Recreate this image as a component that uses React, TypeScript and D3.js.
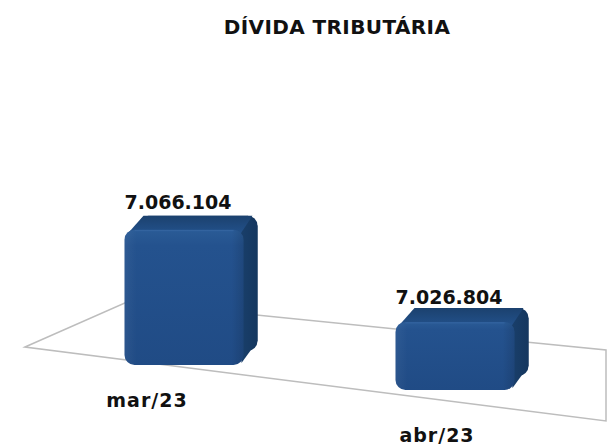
import React from "react";
import * as d3 from "d3";

const title = "DÍVIDA TRIBUTÁRIA";
const categories = ["mar/23", "abr/23"];
const values = [7066104, 7026804];
const valueLabels = ["7.066.104", "7.026.804"];

const W = 608;
const H = 448;
const FONT = "'DejaVu Sans', 'Liberation Sans', sans-serif";

// perspective layout helpers
const barX = d3.scalePoint<string>().domain(categories).range([184, 455]);
const baseY = d3.scaleLinear().domain([184, 455]).range([365, 390]);
const hScale = d3.scaleLinear().domain([6987000, 7070000]).range([0, 142]);
const labelX = d3.scalePoint<string>().domain(categories).range([147, 437]);
const labelY = d3.scaleLinear().domain([147, 437]).range([407, 442]);

const BAR_W = 119;
const DX = 14;
const DY = -14;
const RX = 10;

const floorPts: [number, number][] = [
  [25, 347],
  [127, 302],
  [606, 350],
  [606, 421],
];

export default function App() {
  const floorPath = d3.line()(floorPts) + "Z";
  return (
    <svg
      width={W}
      height={H}
      style={{ position: "absolute", left: 0, top: 0, background: "#fff" }}
    >
      <defs>
        <linearGradient id="front" x1="0" y1="0" x2="0" y2="1">
          <stop offset="0" stopColor="#2a5b96" />
          <stop offset="0.12" stopColor="#24528e" />
          <stop offset="1" stopColor="#204b85" />
        </linearGradient>
        <linearGradient id="frontH" x1="0" y1="0" x2="1" y2="0">
          <stop offset="0" stopColor="#ffffff" stopOpacity="0.05" />
          <stop offset="0.1" stopColor="#ffffff" stopOpacity="0" />
          <stop offset="0.9" stopColor="#000000" stopOpacity="0" />
          <stop offset="1" stopColor="#000000" stopOpacity="0.12" />
        </linearGradient>
        <linearGradient id="top" x1="0" y1="0" x2="0" y2="1">
          <stop offset="0" stopColor="#1b416e" />
          <stop offset="1" stopColor="#23518b" />
        </linearGradient>
        <linearGradient id="side" x1="0" y1="0" x2="1" y2="0">
          <stop offset="0" stopColor="#1b426f" />
          <stop offset="1" stopColor="#15375f" />
        </linearGradient>
      </defs>

      <text
        x={337}
        y={34}
        textAnchor="middle"
        fontFamily={FONT}
        fontWeight="bold"
        fontSize={20}
        letterSpacing={0.4}
        fill="#111"
      >
        {title}
      </text>

      <path d={floorPath} fill="none" stroke="#bdbdbd" strokeWidth={1.5} />

      {categories.map((c, i) => {
        const cx = barX(c) as number;
        const x = cx - BAR_W / 2;
        const xr = x + BAR_W;
        const bottom = baseY(cx);
        const h = hScale(values[i]);
        const top = bottom - h;
        const sidePath = d3.line()([
          [xr - RX, top],
          [xr - RX + DX, top + DY],
          [xr + DX, top + DY + RX],
          [xr + DX, bottom + DY - RX],
          [xr - 2, bottom - 2],
        ]) + "Z";
        const topPath = d3.line()([
          [x + 3, top + 4],
          [x + DX + RX / 2, top + DY],
          [xr + DX - RX / 2, top + DY],
          [xr - 3, top + 4],
        ]) + "Z";
        return (
          <g key={c}>
            <rect
              x={x + DX}
              y={top + DY}
              width={BAR_W}
              height={h}
              rx={RX}
              fill="url(#side)"
            />
            <path d={sidePath} fill="url(#side)" />
            <path d={topPath} fill="url(#top)" />
            <rect x={x} y={top} width={BAR_W} height={h} rx={RX} fill="url(#front)" />
            <rect x={x} y={top} width={BAR_W} height={h} rx={RX} fill="url(#frontH)" />
            <line
              x1={x + RX}
              x2={xr - RX}
              y1={top + 1}
              y2={top + 1}
              stroke="#3a6aa6"
              strokeWidth={1.2}
              opacity={0.6}
            />
            <text
              x={cx - 6}
              y={top + DY - (i === 0 ? 7 : 4)}
              textAnchor="middle"
              fontFamily={FONT}
              fontWeight="bold"
              fontSize={19}
              fill="#111"
            >
              {valueLabels[i]}
            </text>
          </g>
        );
      })}

      {categories.map((c) => {
        const lx = labelX(c) as number;
        return (
          <text
            key={"l" + c}
            x={lx}
            y={labelY(lx)}
            textAnchor="middle"
            fontFamily={FONT}
            fontWeight="bold"
            fontSize={19}
            letterSpacing={1}
            fill="#111"
          >
            {c}
          </text>
        );
      })}
    </svg>
  );
}
